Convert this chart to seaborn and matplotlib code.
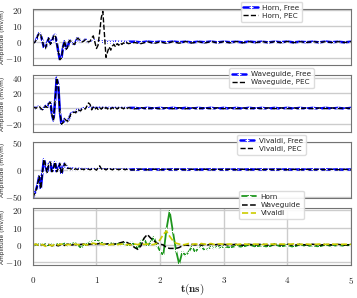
import numpy as np
import pandas as pd
import matplotlib
matplotlib.use("Agg")
import seaborn as sns
from matplotlib import pyplot as plt
from matplotlib.ticker import FuncFormatter

# time axes (ns): fine sampling at the start, coarser afterwards
t_top = np.round(np.concatenate([np.arange(0, 1.5001, 0.025), np.arange(1.6, 5.0001, 0.1)]), 3)
t_bot = np.round(np.concatenate([np.arange(0, 3.0001, 0.05), np.arange(3.1, 5.0001, 0.1)]), 3)

# ---- Horn ----
horn_free_head = [0, -0.5, 1, 3.5, 5.5, 4.5, 0.5, -3.5, -3.8, -0.5,
                  2.4, -1.5, 0.5, 3.5, 4.5, 0, -6, -11, -10, -3,
                  0.5, -4.5, -3, 1, 0.5, -0.5, -1.6, 0, 2.4, 1.8,
                  0.5, 0, 0.5, 1.5, 1, 0, -0.5, 0, 0.5, 1,
                  0.5, 0, 0.5, -0.3, 0.4, -0.3, 0.3, -0.2, 0.3, -0.2,
                  0.3, -0.2, 0.3, -0.2, 0.2, -0.2, 0.2, -0.2, 0.2, -0.2,
                  0.2]
horn_free_tail = [0.2, -0.2, 0.3, -0.1, 0.2, -0.2, 0.3, -0.1, 0.2, -0.2,
                  0.2, -0.1, 0.3, -0.2, 0.2, -0.1, 0.2, -0.2, 0.3, -0.1,
                  0.2, -0.2, 0.2, -0.1, 0.3, -0.2, 0.2, -0.1, 0.2, -0.2,
                  0.3, -0.1, 0.2, -0.2, 0.2]
horn_pec_late = [0.5, 2.5, 3.8, 0, -4, -2, 6, 15, 19, 5,
                 -9.5, -6, -3, -5, -2.5, -1.5, -3, -1, -2, -0.5,
                 -1.5, -0.5, -1.2, -0.3, -1]
horn_pec_tail = [-0.3, -1, 0.2, -0.9, 0.1, -0.8, 0.2, -0.7, 0.3, -0.6,
                 0.2, -0.6, 0.3, -0.5, 0.2, -0.5, 0.3, -0.5, 0.2, -0.4,
                 0.3, -0.4, 0.2, -0.4, 0.3, -0.4, 0.2, -0.3, 0.3, -0.3,
                 0.2, -0.3, 0.2, -0.3, 0.2]
horn_free = horn_free_head + horn_free_tail
horn_pec = horn_free_head[:36] + horn_pec_late + horn_pec_tail

# ---- Waveguide ----
wg_free_head = [0, 1, 0, 1.5, 2.5, 0, -2, 0, 3, 1,
                6, 8, -8, -16, 10, 40, 30, -5, -21, -19,
                -14, -16, -17, -12, -7, -6, -5, -6, -2, -2.5,
                -3.5, -1, 0, -1, 0.5, -0.5, 1, -0.8, 0.8, -0.8,
                0.8, -0.7, 0.7, -0.7, 0.7, -0.6, 0.6, -0.6, 0.6, -0.6,
                0.6, -0.5, 0.5, -0.5, 0.5, -0.5, 0.5, -0.5, 0.5, -0.5,
                0.5]
wg_free_tail = [0.5, -0.5, 0.6, -0.4, 0.5, -0.5, 0.6, -0.4, 0.5, -0.5,
                0.5, -0.4, 0.6, -0.5, 0.5, -0.4, 0.5, -0.5, 0.6, -0.4,
                0.5, -0.5, 0.5, -0.4, 0.6, -0.5, 0.5, -0.4, 0.5, -0.5,
                0.6, -0.4, 0.5, -0.5, 0.5]
wg_pec_late = [3, 7, 5, -2, 1.5, -1.5, 1, -1.5, 1, -1.2,
               1, -1.2, 1, -1, 1, -1, 1, -1, 0.8, -1,
               0.8, -1, 0.8, -0.8, 0.8, -0.8, 0.8]
wg_pec_tail = [-0.8, 0.8, -0.8, 0.7, -0.8, 0.7, -0.7, 0.7, -0.7, 0.6,
               -0.7, 0.6, -0.6, 0.6, -0.6, 0.6, -0.6, 0.5, -0.6, 0.5,
               -0.5, 0.5, -0.5, 0.5, -0.5, 0.5, -0.5, 0.4, -0.5, 0.4,
               -0.4, 0.4, -0.4, 0.4, -0.4]
wg_free = wg_free_head + wg_free_tail
wg_pec = wg_free_head[:34] + wg_pec_late + wg_pec_tail

# ---- Vivaldi ----
viv_free_head = [-52, -45, -38, -27, -12, -35, -5, 19, 8, -5,
                 10, 14, -4, 2, 14, -4, 2, 11, -8, 3,
                 11, 7, 2, 2.5, 1, 2, 0.5, 1.5, 0, 1.5,
                 0, 1.2, -0.2, 1.2, 0, 1, -0.3, 1, 0, 1,
                 -0.5, 1, 0, 0.8, -0.3, 0.8, 0, 0.8, -0.3, 0.8,
                 0, 0.7, -0.3, 0.7, 0, 0.7, -0.3, 0.6, 0, 0.6,
                 -0.2]
viv_free_tail = [0.6, -0.2, 0.6, 0, 0.5, -0.2, 0.6, 0, 0.5, -0.2,
                 0.5, 0, 0.6, -0.2, 0.5, 0, 0.5, -0.2, 0.6, 0,
                 0.5, -0.2, 0.5, 0, 0.6, -0.2, 0.5, 0, 0.5, -0.2,
                 0.6, 0, 0.5, -0.2, 0.5]
viv_pec_late = [-1, 3, 7, 2, -1, 1.5, -0.5, 1.5, -0.5, 1.2,
                -0.5, 1.2, -0.5, 1, -0.4, 1, -0.4, 1, -0.3, 0.8,
                -0.3]
viv_pec_tail = [-0.3, 0.9, -0.3, 0.8, -0.3, 0.8, -0.2, 0.8, -0.3, 0.7,
                -0.2, 0.7, -0.3, 0.7, -0.2, 0.6, -0.2, 0.6, -0.2, 0.6,
                -0.2, 0.6, -0.2, 0.5, -0.2, 0.5, -0.1, 0.5, -0.2, 0.5,
                -0.1, 0.5, -0.1, 0.4, -0.1]
viv_free = viv_free_head + viv_free_tail
viv_pec = viv_free_head[:40] + viv_pec_late + viv_pec_tail

# ---- comparison panel ----
cmp_horn = [0, -0.5, 0.5, -0.3, 0.5, -0.5, 0.3, -0.2, 0.6, 0,
            0.8, -0.3, 0.5, 1, 0.5, -1.5, -0.5, 0.5, 1.5, 2,
            2.5, 2, 1, 0, 0.5, 1, 0, 0.8, 0.2, 1.2,
            -0.5, 1.5, 0, -2.5, 2, 3.5, -0.5, 1.5, 4.5, 0,
            -3.5, -6, 9, 19.5, 8, -3, -11, -4, -6, -4,
            -1, -4, -2, -1, -3, -2.5, -1, -2, -1, -1.8,
            -0.8,
            -1.5, -0.5, -1.2, 0.3, -1, -0.2, -1.2, 0.5, -1, 0,
            -1.2, 0.4, -0.8, -0.2, -1, 0.3, -0.8, 0, -0.6, 0.2]
cmp_wg = [0, 0.3, -0.3, 0.2, -0.4, 0.3, -0.5, 0, -0.5, 0.3,
          -0.3, 0.5, -0.2, 0.3, 0, 0.3, 0.5, 0, 0.5, 0.3,
          0.5, 0.8, 0.3, 0.5, 0.8, 0.3, 0.6, 1, 1.5, 2,
          1, 0, -1.5, -2.5, -0.5, 4, 6, 4, 2.5, 1,
          0.5, 0, -1.5, -2, -2, -2, -1.5, -0.5, 0, -0.3,
          0.3, 0, 0.4, -0.2, 0.3, 0, 0.5, 0, 0.3, -0.2,
          0.3,
          0, 0.4, -0.2, 0.3, 0, 0.5, -0.2, 0.3, 0, 0.4,
          -0.2, 0.3, 0, 0.4, -0.2, 0.3, 0, 0.3, -0.1, 0.2]
cmp_viv = [0, 0.5, -0.5, 0.3, -0.8, 0.2, -0.5, 0.5, 0, 0.5,
           -0.3, 0.3, 0, 0.5, 0.2, 0, 0.4, 0, 0.5, 1,
           0.5, 0.8, 0.3, 0.5, 0, 0.4, 0, 0.3, 0.5, 0,
           0.3, 0, 0.5, 0.2, 0.8, 0.3, 0.5, 0, 0.3, 1,
           3, 6, 8, 5, 2.5, 1, 0.5, 0, 0.3, 0.8,
           0.3, 0.6, 0.3, 0.8, 0.4, 0.5, 0.8, 0.3, 0.5, 0.6,
           0.4,
           0.5, 0.2, 0.6, 0.3, 0.5, 0.2, 0.6, 0.4, 0.5, 0.3,
           0.6, 0.3, 0.5, 0.2, 0.5, 0.3, 0.5, 0.3, 0.4, 0.3]

sns.set_theme(style="whitegrid")
plt.rcParams['font.family'] = ['DejaVu Sans']
plt.rcParams['mathtext.fontset'] = 'cm'

fig, axes = plt.subplots(4, 1, sharex=True, figsize=(3.57, 2.98), dpi=100)
fig.subplots_adjust(left=0.092, right=0.983, top=0.970, bottom=0.111, hspace=0.177)

mathfmt = FuncFormatter(lambda v, p: f'${v:g}$')
leg_kw = dict(loc='upper center', fontsize=5.2, framealpha=0.9, edgecolor='0.85',
              handlelength=2.0, borderpad=0.4, labelspacing=0.3, borderaxespad=0,
              handletextpad=0.6)

panels = [
    ("Horn", horn_free, horn_pec, (-14.5, 20.5), [-10, 0, 10, 20]),
    ("Waveguide", wg_free, wg_pec, (-31, 43), [-20, 0, 20, 40]),
    ("Vivaldi", viv_free, viv_pec, (-53, 51), [-50, 0, 50]),
]
for ax, (name, free, pec, ylim, yt) in zip(axes[:3], panels):
    sns.lineplot(x=t_top, y=free, ax=ax, color='blue', lw=1.8, marker='+',
                 markersize=3.5, markeredgewidth=0.8, label=f'{name}, Free')
    sns.lineplot(x=t_top, y=pec, ax=ax, color='black', lw=1.0, linestyle='--',
                 label=f'{name}, PEC')
    ax.set_ylim(*ylim)
    ax.set_yticks(yt)
    ax.grid(axis='x', visible=False)
    ax.legend(bbox_to_anchor=(0.75, 1.13), **leg_kw)

ax = axes[3]
sns.lineplot(x=t_bot, y=cmp_horn, ax=ax, color='#1e961e', lw=1.3, marker='+',
             markersize=3, markeredgewidth=0.7, label='Horn')
sns.lineplot(x=t_bot, y=cmp_wg, ax=ax, color='black', lw=1.1, linestyle='--',
             label='Waveguide')
sns.lineplot(x=t_bot, y=cmp_viv, ax=ax, color='#cccc00', lw=1.2, linestyle='--',
             label='Vivaldi')
ax.set_ylim(-11.5, 21)
ax.set_yticks([-10, 0, 10, 20])
ax.legend(bbox_to_anchor=(0.75, 1.31), **leg_kw)
ax.set_xlim(0, 5)
ax.set_xticks([0, 1, 2, 3, 4, 5])
ax.xaxis.set_major_formatter(mathfmt)
ax.set_xlabel(r'$\mathbf{t(ns)}$', fontsize=8)
ax.xaxis.set_label_coords(0.5, -0.29)

for ax in axes:
    ax.yaxis.set_major_formatter(mathfmt)
    ax.set_ylabel('Amplitude (mV/m)', fontsize=4.2)
    ax.yaxis.set_label_coords(-0.088, 0.5)
    ax.tick_params(axis='y', labelsize=6.5, pad=1.5)
    ax.tick_params(axis='x', labelsize=6.5, pad=1)
    for s in ax.spines.values():
        s.set_color('0.45')
        s.set_linewidth(0.8)

plt.savefig('out.png', dpi=100)
